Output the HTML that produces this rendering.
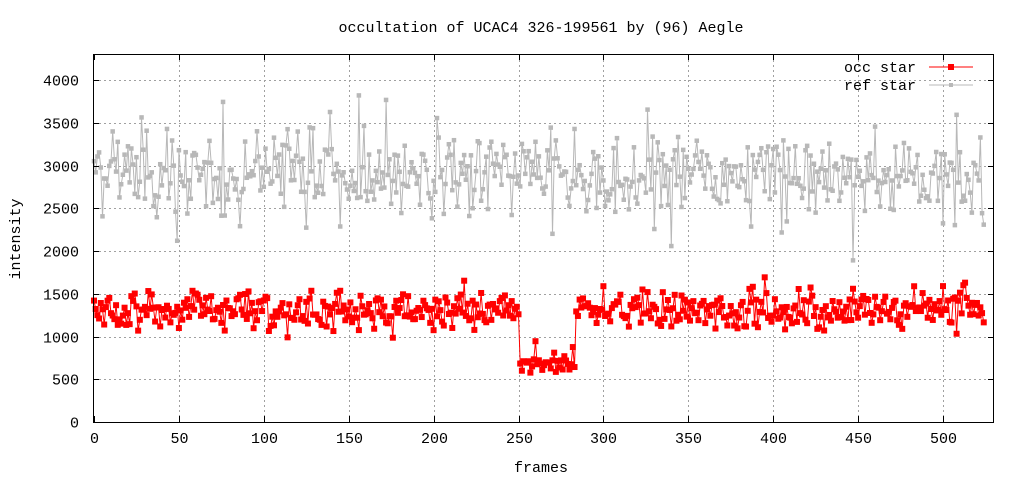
<!DOCTYPE html>
<html><head><meta charset="utf-8"><style>
html,body{margin:0;padding:0;background:#fff;}
svg{display:block;font-family:"Liberation Mono","DejaVu Sans Mono",monospace;font-size:15px;}
</style></head><body>
<svg id="s" width="1024" height="480" viewBox="0 0 1024 480" xmlns="http://www.w3.org/2000/svg">
<rect width="1024" height="480" fill="#fff"/>
<g id="grid" stroke="#a0a0a0" stroke-width="1" stroke-dasharray="2,3"></g>
<g id="data"></g>
<rect x="93.5" y="54.5" width="900" height="368" fill="none" stroke="#000" stroke-width="1"/>
<g id="ticks" stroke="#000" stroke-width="1"></g>
<g fill="#000">
<text x="541" y="32" text-anchor="middle">occultation of UCAC4 326-199561 by (96) Aegle</text>
<text x="541" y="472" text-anchor="middle">frames</text>
<text transform="translate(20,239) rotate(-90)" text-anchor="middle">intensity</text>
<text x="916" y="72" text-anchor="end">occ star</text>
<text x="916" y="90" text-anchor="end">ref star</text>
</g>
<g id="tl" fill="#000"></g>
<line x1="929" y1="67" x2="973" y2="67" stroke="#ff0000"/>
<rect x="948" y="64" width="6" height="6" fill="#ff0000"/>
<line x1="929" y1="85" x2="973" y2="85" stroke="#b8b8b8"/>
<rect x="949" y="83" width="4" height="4" fill="#b8b8b8"/>
</svg>
<script>
var NS="http://www.w3.org/2000/svg";
function X(f){return 94+f*1.698;}
function Y(v){return 422-v*0.0855;}
function el(p,t,a){var e=document.createElementNS(NS,t);for(var k in a)e.setAttribute(k,a[k]);p.appendChild(e);return e;}
var g=document.getElementById('grid'),tk=document.getElementById('ticks'),tl=document.getElementById('tl');
for(var v=0;v<=4000;v+=500){var y=Math.round(Y(v))+0.5;
 if(v>0)el(g,'line',{x1:94,y1:y,x2:993,y2:y});
 el(tk,'line',{x1:93.5,y1:y,x2:99,y2:y});el(tk,'line',{x1:993.5,y1:y,x2:988,y2:y});
 var t=el(tl,'text',{x:79,y:y+5,'text-anchor':'end'});t.textContent=v;}
for(var f=0;f<=500;f+=50){var x=Math.round(X(f))+0.5;
 if(f>0)el(g,'line',{x1:x,y1:55,x2:x,y2:422});
 el(tk,'line',{x1:x,y1:422,x2:x,y2:416});el(tk,'line',{x1:x,y1:54.5,x2:x,y2:60});
 var t=el(tl,'text',{x:x,y:443,'text-anchor':'middle'});t.textContent=f;}
var seed=12345;function r(){seed=(seed*1103515245+12345)%2147483648;return seed/2147483648;}
function gn(){return (r()+r()+r()+r()-2)*1.7;}
var occ=[],ref=[];
for(var i=0;i<=524;i++){
 var o;
 if(i>=251&&i<=283)o=680+gn()*60;else o=1310+gn()*110;
 if(r()<0.04)o+= (r()<0.5?-1:1)*250;
 occ.push(o);
 var rv=2880+gn()*230; if(r()<0.05)rv+=(r()<0.5?-1:1)*550;
 ref.push(rv);
}
var d=document.getElementById('data');
function series(arr,col,sz){
 var p='';for(var i=0;i<arr.length;i++)p+=(i?'L':'M')+X(i).toFixed(1)+' '+Y(arr[i]).toFixed(1);
 el(d,'path',{d:p,fill:'none',stroke:col,'stroke-width':1});
 for(var i=0;i<arr.length;i++)el(d,'rect',{x:X(i)-sz/2,y:Y(arr[i])-sz/2,width:sz,height:sz,fill:col});
}
series(ref,'#b8b8b8',4.5);
series(occ,'#ff0000',6);
</script>
</body></html>
